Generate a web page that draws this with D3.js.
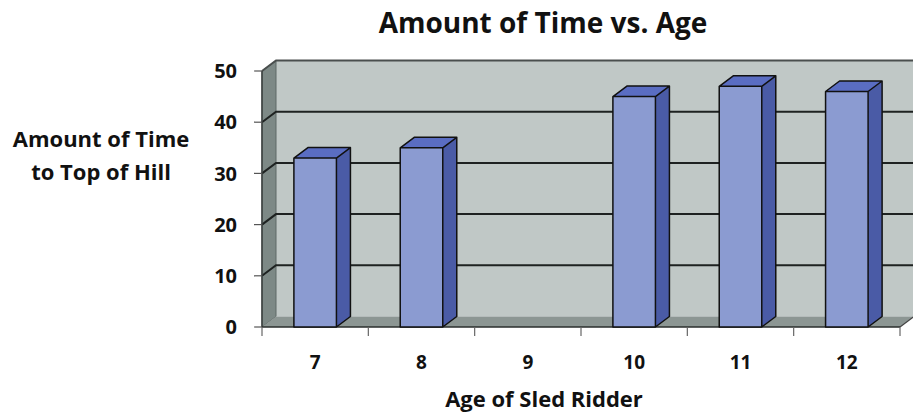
<!DOCTYPE html>
<html>
<head>
<meta charset="utf-8">
<script src="https://cdn.jsdelivr.net/npm/d3@7"></script>
<style>
  body { margin: 0; background: #fff; }
  text { font-family: "Open Sans", Lato, sans-serif; font-weight: bold; fill: #111; }
</style>
</head>
<body>
<svg id="chart" width="913" height="413"></svg>
<script>
// data
let ages = ['7', '8', '9', '10', '11', '12'];
let times = [33, 35, null, 45, 47, 46];
let yTicks = [0, 10, 20, 30, 40, 50];

let svg = d3.select('#chart');

// front plane of the 3d box
let x = d3.scaleBand()
  .domain(ages)
  .range([262, 900])
  .paddingInner(0.6)
  .paddingOuter(0.3);

let y = d3.scaleLinear()
  .domain([0, 50])
  .range([327, 71]);

// depth offset of the box
let dx = 14, dy = -10.5;
let x0 = x.range()[0], x1 = x.range()[1];

let poly = pts => 'M' + pts.map(p => p.join(',')).join('L') + 'Z';

// back wall
svg.append('path')
  .attr('d', poly([[x0 + dx, y(50) + dy], [x1 + dx + 20, y(50) + dy], [x1 + dx + 20, y(0) + dy], [x0 + dx, y(0) + dy]]))
  .style('fill', '#c0c8c6');

// left wall
svg.append('path')
  .attr('d', poly([[x0, y(0)], [x0, y(50)], [x0 + dx, y(50) + dy], [x0 + dx, y(0) + dy]]))
  .style('fill', '#7d8986')
  .style('stroke', '#5f6866')
  .style('stroke-width', 1);

// floor
svg.append('path')
  .attr('d', poly([[x0, y(0)], [x1, y(0)], [x1 + dx, y(0) + dy], [x0 + dx, y(0) + dy]]))
  .style('fill', '#8c9693');

// gridlines on the walls
let grid = svg.append('g').attr('class', 'grid');
grid.selectAll('path.gl')
  .data(yTicks.filter(d => d > 0))
  .enter()
  .append('path')
  .attr('class', 'gl')
  .attr('d', d => `M${x0},${y(d)}L${x0 + dx},${y(d) + dy}L${x1 + dx + 20},${y(d) + dy}`)
  .style('fill', 'none')
  .style('stroke', d => d == 50 ? '#4a4f4e' : '#1e2221')
  .style('stroke-width', 2);

// y axis line and ticks
svg.append('line')
  .attr('x1', x0).attr('x2', x0)
  .attr('y1', y(0)).attr('y2', y(50))
  .style('stroke', '#3a3f3e').style('stroke-width', 1.5);

let yAx = svg.append('g');
yAx.selectAll('line')
  .data(yTicks)
  .enter()
  .append('line')
  .attr('x1', x0 - 8).attr('x2', x0)
  .attr('y1', d => y(d)).attr('y2', d => y(d))
  .style('stroke', '#555').style('stroke-width', 1.2);

yAx.selectAll('text')
  .data(yTicks)
  .enter()
  .append('text')
  .attr('x', 237)
  .attr('y', d => y(d))
  .attr('dy', '0.36em')
  .style('text-anchor', 'end')
  .style('font-size', '20px')
  .text(d => d);

// floor front edge and x ticks
svg.append('line')
  .attr('x1', x0).attr('x2', x1)
  .attr('y1', y(0)).attr('y2', y(0))
  .style('stroke', '#2a2e2d').style('stroke-width', 1.5);

svg.append('line')
  .attr('x1', x1).attr('x2', x1 + dx)
  .attr('y1', y(0)).attr('y2', y(0) + dy)
  .style('stroke', '#444').style('stroke-width', 1.2);

let step = x.step();
let edges = d3.range(ages.length + 1).map(i => x0 + i * step);
svg.append('g').selectAll('line')
  .data(edges)
  .enter()
  .append('line')
  .attr('x1', d => d).attr('x2', d => d)
  .attr('y1', y(0)).attr('y2', y(0) + 9)
  .style('stroke', '#666').style('stroke-width', 1.2);

svg.append('g').selectAll('text')
  .data(ages)
  .enter()
  .append('text')
  .attr('x', d => x(d) + x.bandwidth() / 2)
  .attr('y', 369)
  .style('text-anchor', 'middle')
  .style('font-size', '19px')
  .text(d => d);

// 3d bars
let bw = x.bandwidth();
let bars = svg.append('g').attr('class', 'bars')
  .selectAll('g.bar')
  .data(ages.map((a, i) => ({age: a, value: times[i]})).filter(d => d.value != null))
  .enter()
  .append('g')
  .attr('class', 'bar');

bars.append('path')
  .attr('d', d => {
    let l = x(d.age) + bw, t = y(d.value);
    return poly([[l, t], [l + dx, t + dy], [l + dx, y(0) + dy], [l, y(0)]]);
  })
  .style('fill', '#4a5ba6');

bars.append('path')
  .attr('d', d => {
    let l = x(d.age), t = y(d.value);
    return poly([[l, t], [l + dx, t + dy], [l + bw + dx, t + dy], [l + bw, t]]);
  })
  .style('fill', '#5a6dc2');

bars.append('rect')
  .attr('x', d => x(d.age))
  .attr('y', d => y(d.value))
  .attr('width', bw)
  .attr('height', d => y(0) - y(d.value))
  .style('fill', '#8b9bd1');

bars.append('path')
  .attr('d', d => {
    let l = x(d.age), t = y(d.value), b = y(0);
    return poly([[l, b], [l, t], [l + dx, t + dy], [l + bw + dx, t + dy], [l + bw + dx, b + dy], [l + bw, b]]) +
      `M${l},${t}L${l + bw},${t}L${l + bw + dx},${t + dy}M${l + bw},${t}L${l + bw},${b}`;
  })
  .style('fill', 'none')
  .style('stroke', '#111')
  .style('stroke-width', 1.5)
  .style('stroke-linejoin', 'round');

// titles
svg.append('text')
  .attr('x', 543).attr('y', 33)
  .style('text-anchor', 'middle')
  .style('font-size', '28px')
  .text('Amount of Time vs. Age');

svg.append('text')
  .attr('x', 544).attr('y', 407)
  .style('text-anchor', 'middle')
  .style('font-size', '22px')
  .text('Age of Sled Ridder');

let yLab = svg.append('text')
  .attr('x', 101).attr('y', 147)
  .style('text-anchor', 'middle')
  .style('font-size', '22px');
yLab.append('tspan').attr('x', 101).text('Amount of Time');
yLab.append('tspan').attr('x', 101).attr('dy', 33).text('to Top of Hill');
</script>
</body>
</html>
